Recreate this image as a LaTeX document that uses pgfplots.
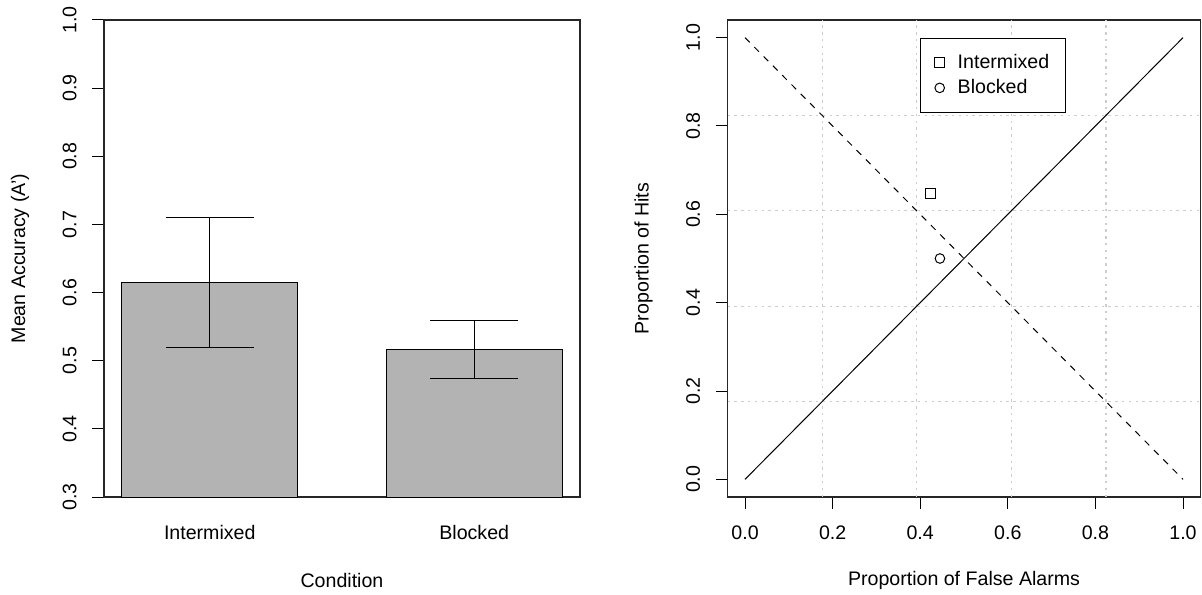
\documentclass[border=0pt]{standalone}
\usepackage{fontspec}
\setmainfont{Liberation Sans}
\usepackage{pgfplots}
\pgfplotsset{compat=1.18}
\definecolor{bargray}{RGB}{179,179,179}
\definecolor{gridgray}{RGB}{205,205,205}

\pgfplotsset{
  rstyle/.style={
    scale only axis,
    axis line style={line width=0.6pt, black!85},
    tick align=outside,
    major tick length=6pt,
    tick style={line width=0.5pt, black},
    xtick pos=bottom, ytick pos=left,
    /pgf/number format/fixed,
    /pgf/number format/fixed zerofill,
    /pgf/number format/precision=1,
    /pgf/number format/assume math mode=true,
    yticklabel style={xshift=-7.5pt, rotate=90, anchor=south, inner sep=0pt},
    xticklabel style={yshift=-8pt, anchor=north, inner sep=0pt},
    every axis x label/.style={at={(axis description cs:0.5,0)}, anchor=center, yshift=-41.5pt},
    every axis y label/.style={at={(axis description cs:0,0.5)}, xshift=-42pt, rotate=90, anchor=center},
  }
}

\pgfplotstableread{
x   y     ep     em
1   0.615 0.095  0.095
2.5 0.516 0.0425 0.0425
}\accdata

\begin{document}
\fontsize{9.8pt}{11.8pt}\selectfont
\begin{tikzpicture}
\useasboundingbox (0,0) rectangle (601pt,297pt);

% left panel: mean accuracy by condition
\begin{axis}[
  rstyle,
  at={(52pt,48.5pt)}, anchor=south west,
  width=238pt, height=238.5pt,
  xmin=0.4, xmax=3.1, ymin=0.3, ymax=1.0,
  xtick={1,2.5}, xticklabels={Intermixed,Blocked},
  x tick style={draw=none},
  ytick={0.3,0.4,0.5,0.6,0.7,0.8,0.9,1.0},
  xlabel={Condition},
  ylabel={Mean Accuracy (A')},
]
\addplot[ybar, bar width=1, fill=bargray, draw=black, line width=0.5pt,
  error bars/.cd, y dir=both, y explicit,
  error bar style={line width=0.5pt, black},
  error mark options={rotate=90, line width=0.5pt, black, mark size=22pt}]
  table[x=x, y=y, y error plus=ep, y error minus=em] {\accdata};
\end{axis}

% right panel: hits vs false alarms
\begin{axis}[
  rstyle,
  at={(363.75pt,48.5pt)}, anchor=south west,
  width=236.5pt, height=238.5pt,
  xmin=-0.04, xmax=1.04, ymin=-0.04, ymax=1.04,
  xtick={0,0.2,0.4,0.6,0.8,1.0},
  ytick={0,0.2,0.4,0.6,0.8,1.0},
  extra x ticks={0.176,0.392,0.608,0.824},
  extra y ticks={0.176,0.392,0.608,0.824},
  extra x tick labels={}, extra y tick labels={},
  extra tick style={grid=major, major tick length=0pt,
    major grid style={gridgray, line width=0.6pt, dash pattern=on 1.2pt off 2.2pt}},
  xlabel={Proportion of False Alarms},
  ylabel={Proportion of Hits},
  legend style={at={(axis cs:0.4,1)}, anchor=north west, draw=black, line width=0.5pt,
    inner xsep=6pt, inner ysep=6pt, cells={anchor=west}},
  legend image code/.code={
    \path[draw=none, fill=none] (0pt,-2pt) rectangle (10.5pt,2pt);
    \draw[#1] plot coordinates {(3.5pt,0pt)};},
]
\addplot[black, line width=0.5pt, forget plot] coordinates {(0,0) (1,1)};
\addplot[black, line width=0.5pt, dash pattern=on 3.3pt off 3.3pt, forget plot] coordinates {(0,1) (1,0)};
\addplot[only marks, mark=square, mark size=2.4pt, mark options={line width=0.5pt, black}] coordinates {(0.423,0.647)};
\addlegendentry{Intermixed}
\addplot[only marks, mark=o, mark size=2.4pt, mark options={line width=0.5pt, black}] coordinates {(0.445,0.500)};
\addlegendentry{Blocked}
\end{axis}
\end{tikzpicture}
\end{document}
